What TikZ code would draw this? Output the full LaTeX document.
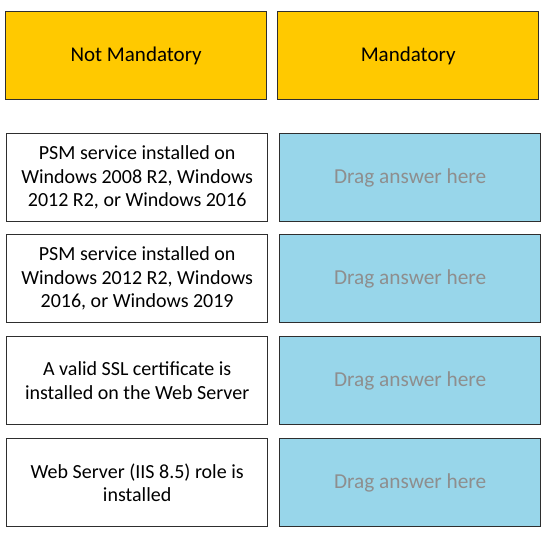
\documentclass[tikz,border=0pt]{standalone}
\usepackage{fontspec}
\setmainfont{Carlito}
\definecolor{hdr}{HTML}{FFC900}
\definecolor{drop}{HTML}{98D6EA}
\definecolor{edge}{HTML}{2E2E2E}
\definecolor{hint}{HTML}{8E8E8E}
\begin{document}
\begin{tikzpicture}[x=1pt,y=-1pt,
  box/.style={draw=edge,line width=1.3pt,minimum width=261pt,minimum height=88pt,inner sep=0pt,align=center,font=\fontsize{20}{23.5}\selectfont,anchor=north west},
  hbox/.style={box,fill=hdr,font=\fontsize{21}{24}\selectfont},
  qbox/.style={box,fill=white},
  dbox/.style={box,fill=drop,text=hint,font=\fontsize{21.3}{24}\selectfont}]
\useasboundingbox (0,0) rectangle (550,546);
\node[hbox] (h1) at (5,11) {Not Mandatory};
\node[hbox] (h2) at (277,11) {Mandatory};
\node[qbox] (q1) at (6,133) {PSM service installed on\\Windows 2008 R2, Windows\\2012 R2, or Windows 2016};
\node[dbox] (d1) at (279,133) {Drag answer here};
\node[qbox] (q2) at (6,234) {PSM service installed on\\Windows 2012 R2, Windows\\2016, or Windows 2019};
\node[dbox] (d2) at (279,234) {Drag answer here};
\node[qbox] (q3) at (6,336) {A valid SSL certificate is\\installed on the Web Server};
\node[dbox] (d3) at (279,336) {Drag answer here};
\node[qbox] (q4) at (6,438) {Web Server (IIS 8.5) role is\\installed};
\node[dbox] (d4) at (279,438) {Drag answer here};
\end{tikzpicture}
\end{document}
